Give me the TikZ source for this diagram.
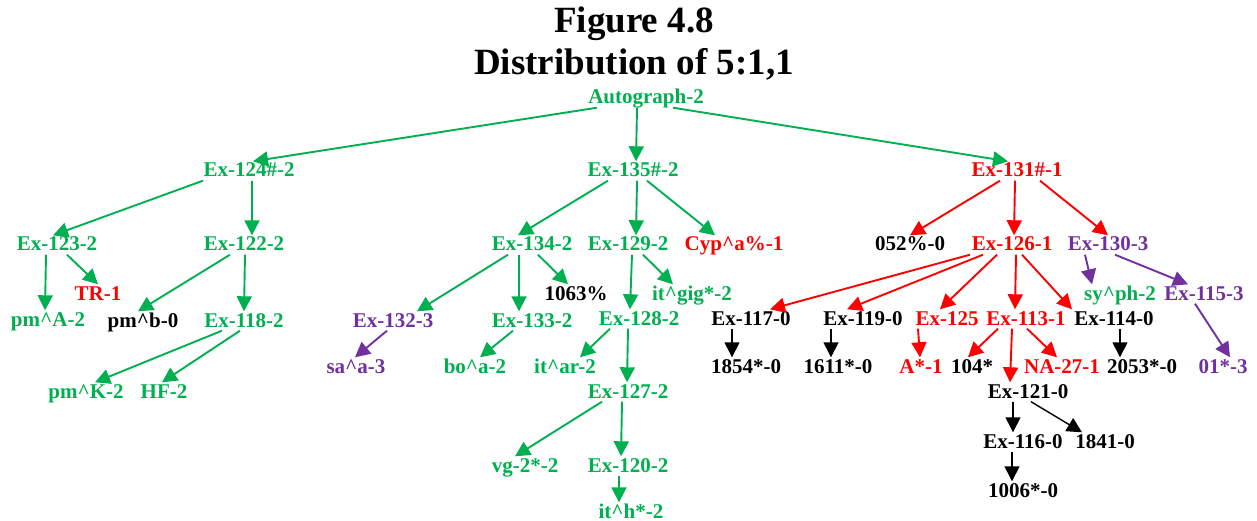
\documentclass[tikz,border=0pt]{standalone}
\usepackage{fontspec}
\setmainfont{Liberation Serif}
\usetikzlibrary{arrows.meta}
\definecolor{exgreen}{RGB}{0,176,80}
\definecolor{expurple}{RGB}{112,48,160}
\tikzstyle{witness}=[font=\bfseries\fontsize{21}{24}\selectfont, inner sep=1.5pt,
  text height=14pt, text depth=2pt]
\tikzstyle{grn} = [witness, text=exgreen]
\tikzstyle{rd} = [witness, text=red]
\tikzstyle{prp} = [witness, text=expurple]
\tikzstyle{blk} = [witness, text=black]
\tikzstyle{gline} = [draw, line width=1.9pt, color=exgreen, -{Triangle[length=15pt,width=15pt]}]
\tikzstyle{rline} = [gline, color=red]
\tikzstyle{pline} = [gline, color=expurple]
\tikzstyle{kline} = [gline, line width=1.4pt, color=black]
\newcommand{\msnode}[3]{node (#1) [#2] {#3}}
\newcommand{\crt}{\textasciicircum}

\begin{document}
\begin{tikzpicture}[x=1pt,y=1pt]
  \useasboundingbox (0,0) rectangle (1257,-521);

  % title
  \path (634,-7) node (TITLE) [anchor=north, inner sep=0pt, align=center,
    font=\bfseries\fontsize{37}{42}\selectfont] {Figure 4.8\\Distribution of 5:1,1};

  % autograph and first copies
  \path (646,-98) \msnode{AUTOGRAPH}{grn}{Autograph-2};
  \path (AUTOGRAPH)+(-397,-73) \msnode{EX124}{grn}{Ex-124\#-2};
  \path (AUTOGRAPH)+(-13,-73) \msnode{EX135}{grn}{Ex-135\#-2};
  \path (AUTOGRAPH)+(371,-73) \msnode{EX131}{rd}{Ex-131\#-1};

  % left branch
  \path (EX124)+(-192,-74) \msnode{EX123}{grn}{Ex-123-2};
  \path (EX124)+(-5,-74) \msnode{EX122}{grn}{Ex-122-2};
  \path (EX123)+(-9,-75) \msnode{PMA}{grn}{pm\crt{}A-2};
  \path (EX123)+(41,-49) \msnode{TR}{rd}{TR-1};
  \path (EX122)+(-101,-76) \msnode{PMB}{blk}{pm\crt{}b-0};
  \path (EX122)+(0,-76) \msnode{EX118}{grn}{Ex-118-2};
  \path (EX118)+(-158,-71) \msnode{PMK}{grn}{pm\crt{}K-2};
  \path (EX118)+(-80,-71) \msnode{HF}{grn}{HF-2};

  % middle branch
  \path (EX135)+(-101,-74) \msnode{EX134}{grn}{Ex-134-2};
  \path (EX135)+(-5,-74) \msnode{EX129}{grn}{Ex-129-2};
  \path (EX135)+(101,-74) \msnode{CYP}{rd}{Cyp\crt{}a\%-1};
  \path (EX134)+(-139,-76) \msnode{EX132}{prp}{Ex-132-3};
  \path (EX134)+(0,-76) \msnode{EX133}{grn}{Ex-133-2};
  \path (EX134)+(44,-49) \msnode{N1063}{blk}{1063\%};
  \path (EX132)+(-37,-46) \msnode{SAA}{prp}{sa\crt{}a-3};
  \path (EX133)+(-57,-46) \msnode{BOA}{grn}{bo\crt{}a-2};
  \path (EX129)+(11,-74) \msnode{EX128}{grn}{Ex-128-2};
  \path (EX129)+(64,-49) \msnode{ITGIG}{grn}{it\crt{}gig*-2};
  \path (EX128)+(-74,-48) \msnode{ITAR}{grn}{it\crt{}ar-2};
  \path (EX128)+(-11,-73) \msnode{EX127}{grn}{Ex-127-2};
  \path (EX127)+(-103,-74) \msnode{VG}{grn}{vg-2*-2};
  \path (EX127)+(0,-74) \msnode{EX120}{grn}{Ex-120-2};
  \path (EX120)+(3,-46) \msnode{ITH}{grn}{it\crt{}h*-2};

  % right branch
  \path (EX131)+(-107,-74) \msnode{N052}{blk}{052\%-0};
  \path (EX131)+(-5,-74) \msnode{EX126}{rd}{Ex-126-1};
  \path (EX131)+(91,-74) \msnode{EX130}{prp}{Ex-130-3};
  \path (EX130)+(12,-49) \msnode{SYPH}{grn}{sy\crt{}ph-2};
  \path (EX130)+(96,-49) \msnode{EX115}{prp}{Ex-115-3};
  \path (EX115)+(19,-73) \msnode{N01}{prp}{01*-3};
  \path (EX126)+(-261,-74) \msnode{EX117}{blk}{Ex-117-0};
  \path (EX126)+(-149,-74) \msnode{EX119}{blk}{Ex-119-0};
  \path (EX126)+(-65,-74) \msnode{EX125}{rd}{Ex-125};
  \path (EX126)+(14,-74) \msnode{EX113}{rd}{Ex-113-1};
  \path (EX126)+(102,-74) \msnode{EX114}{blk}{Ex-114-0};
  \path (EX117)+(-5,-48) \msnode{N1854}{blk}{1854*-0};
  \path (EX119)+(-25,-48) \msnode{N1611}{blk}{1611*-0};
  \path (EX125)+(-26,-48) \msnode{ASTAR}{rd}{A*-1};
  \path (EX113)+(-54,-48) \msnode{N104}{blk}{104*};
  \path (EX113)+(36,-48) \msnode{NA27}{rd}{NA-27-1};
  \path (EX114)+(28,-48) \msnode{N2053}{blk}{2053*-0};
  \path (EX113)+(2,-73) \msnode{EX121}{blk}{Ex-121-0};
  \path (EX121)+(-5,-50) \msnode{EX116}{blk}{Ex-116-0};
  \path (EX121)+(77,-50) \msnode{N1841}{blk}{1841-0};
  \path (EX116)+(0,-49) \msnode{N1006}{blk}{1006*-0};

  % arrows from the autograph
  \path [gline] ([xshift=-49pt]AUTOGRAPH.south) -- ([xshift=4pt]EX124.north);
  \path [gline] ([xshift=-9pt]AUTOGRAPH.south) -- ([xshift=3pt]EX135.north);
  \path [gline] ([xshift=27pt]AUTOGRAPH.south) -- ([xshift=-9pt]EX131.north);

  % left branch
  \path [gline] ([xshift=-46pt]EX124.south) -- ([xshift=-4pt]EX123.north);
  \path [gline] ([xshift=3pt]EX124.south) -- ([xshift=8pt]EX122.north);
  \path [gline] ([xshift=-11pt]EX123.south) -- ([xshift=-3pt]PMA.north);
  \path [gline] ([xshift=10pt]EX123.south) -- (TR.north);
  \path [gline] ([xshift=-14pt]EX122.south) -- ([xshift=-5pt]PMB.north);
  \path [gline] ([xshift=1pt]EX122.south) -- (EX118.north);
  \path [gline] ([xshift=-22pt]EX118.south) -- ([xshift=9pt]PMK.north);
  \path [gline] ([xshift=-4pt]EX118.south) -- ([xshift=-2pt]HF.north);

  % middle branch
  \path [gline] ([xshift=-25pt]EX135.south) -- ([xshift=-14pt]EX134.north);
  \path [gline] ([xshift=4pt]EX135.south) -- ([xshift=8pt]EX129.north);
  \path [gline] ([xshift=14pt]EX135.south) -- ([xshift=-19pt]CYP.north);
  \path [gline] ([xshift=-24pt]EX134.south) -- ([xshift=24pt]EX132.north);
  \path [gline] ([xshift=-13pt]EX134.south) -- ([xshift=-13pt]EX133.north);
  \path [gline] ([xshift=6pt]EX134.south) -- ([xshift=-8pt]N1063.north);
  \path [pline] ([xshift=-6pt]EX132.south) -- ([xshift=-1pt]SAA.north);
  \path [gline] ([xshift=-19pt]EX133.south) -- ([xshift=5pt]BOA.north);
  \path [gline] ([xshift=4pt]EX129.south) -- ([xshift=-9pt]EX128.north);
  \path [gline] ([xshift=15pt]EX129.south) -- ([xshift=-19pt]ITGIG.north);
  \path [gline] ([xshift=-29pt]EX128.south) -- ([xshift=15pt]ITAR.north);
  \path [gline] ([xshift=-11pt]EX128.south) -- ([xshift=-1pt]EX127.north);
  \path [gline] ([xshift=-26pt]EX127.south) -- ([xshift=-10pt]VG.north);
  \path [gline] ([xshift=-6pt]EX127.south) -- ([xshift=-7pt]EX120.north);
  \path [gline] ([xshift=-9pt]EX120.south) -- ([xshift=-12pt]ITH.north);

  % right branch
  \path [rline] ([xshift=-17pt]EX131.south) -- (N052.north);
  \path [rline] ([xshift=-2pt]EX131.south) -- ([xshift=2pt]EX126.north);
  \path [rline] ([xshift=23pt]EX131.south) -- (EX130.north);
  \path [pline] ([xshift=-23pt]EX130.south) -- ([xshift=-28pt]SYPH.north);
  \path [pline] ([xshift=7pt]EX130.south) -- ([xshift=-16pt]EX115.north);
  \path [pline] ([xshift=-9pt]EX115.south) -- ([xshift=7pt]N01.north);
  \path [rline] ([xshift=-42pt]EX126.south) -- ([xshift=19pt]EX117.north);
  \path [rline] ([xshift=-29pt]EX126.south) -- ([xshift=-16pt]EX119.north);
  \path [rline] ([xshift=-15pt]EX126.south) -- ([xshift=-7pt]EX125.north);
  \path [rline] ([xshift=4pt]EX126.south) -- ([xshift=-11pt]EX113.north);
  \path [rline] ([xshift=10pt]EX126.south) -- ([xshift=-42pt]EX114.north);
  \path [kline] ([xshift=-19pt]EX117.south) -- ([xshift=-14pt]N1854.north);
  \path [kline] ([xshift=-32pt]EX119.south) -- ([xshift=-7pt]N1611.north);
  \path [rline] ([xshift=-29pt]EX125.south) -- ([xshift=-1pt]ASTAR.north);
  \path [rline] ([xshift=-28pt]EX113.south) -- ([xshift=-4pt]N104.north);
  \path [rline] ([xshift=-14pt]EX113.south) -- ([xshift=-18pt]EX121.north);
  \path [rline] ([xshift=1pt]EX113.south) -- ([xshift=-5pt]NA27.north);
  \path [kline] ([xshift=6pt]EX114.south) -- ([xshift=-22pt]N2053.north);
  \path [kline] ([xshift=-15pt]EX121.south) -- ([xshift=-10pt]EX116.north);
  \path [kline] ([xshift=3pt]EX121.south) -- ([xshift=-23pt]N1841.north);
  \path [kline] ([xshift=-11pt]EX116.south) -- ([xshift=-11pt]N1006.north);

\end{tikzpicture}
\end{document}
